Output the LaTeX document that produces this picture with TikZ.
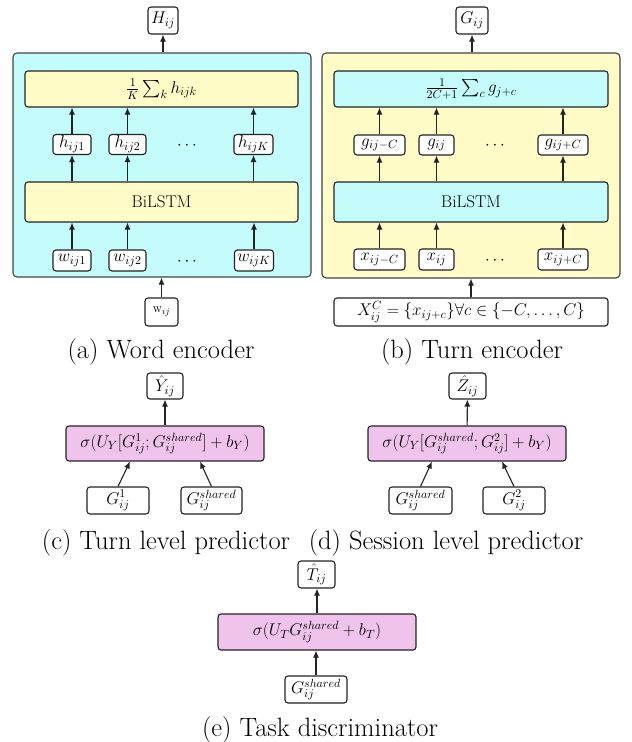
\RequirePackage{fix-cm}
\documentclass[tikz,border=0pt]{standalone}
\usepackage{exscale}
\usepackage[no-math]{fontspec}
\usetikzlibrary{arrows.meta,calc}
\definecolor{cyanbg}{RGB}{196,252,252}
\definecolor{yellowbg}{RGB}{255,252,200}
\definecolor{pinkbg}{RGB}{240,195,236}
\definecolor{linec}{RGB}{35,35,35}
\tikzset{
  box/.style={draw=linec, line width=1.1pt, rounded corners=3pt, fill=white, inner sep=0pt,
    font=\fontsize{17}{20}\selectfont},
  bigbox/.style={draw=linec!85, line width=1.1pt, rounded corners=4pt, inner sep=0pt},
  arr/.style={draw=linec, line width=1.1pt, -{Latex[length=7pt,width=6pt]}},
  capt/.style={font=\fontsize{26.5}{30}\selectfont, inner sep=0pt},
  dotsn/.style={inner sep=0pt, font=\fontsize{17}{20}\selectfont},
}
\begin{document}
\begin{tikzpicture}[x=1pt,y=-1pt]
\useasboundingbox (0,0) rectangle (632,742);

% ---------- (a) Word encoder ----------
\node[bigbox, fill=cyanbg, minimum width=298pt, minimum height=224pt] (WA) at (162,165) {};
\node[box, minimum width=30pt, minimum height=27pt] (H) at (163,20.5) {$H_{ij}$};
\node[box, fill=yellowbg, minimum width=273pt, minimum height=36pt] (avgA) at (161.5,89) {$\frac{1}{K}\sum_k h_{ijk}$};
\node[box, minimum width=38pt, minimum height=20pt] (h1) at (72,144.5) {$h_{ij1}$};
\node[box, minimum width=37pt, minimum height=20pt] (h2) at (127.5,144.5) {$h_{ij2}$};
\node[box, minimum width=39pt, minimum height=20pt] (hK) at (253.5,144.5) {$h_{ijK}$};
\node[dotsn] (dA1) at (187,146) {$\cdots$};
\node[box, fill=yellowbg, minimum width=273pt, minimum height=40pt] (BiA) at (161.5,202) {BiLSTM};
\node[box, minimum width=38pt, minimum height=21pt] (w1) at (72,260.5) {$w_{ij1}$};
\node[box, minimum width=37pt, minimum height=21pt] (w2) at (127.5,260.5) {$w_{ij2}$};
\node[box, minimum width=39pt, minimum height=21pt] (wK) at (254,260.5) {$w_{ijK}$};
\node[dotsn] (dA2) at (187,262) {$\cdots$};
\node[box, minimum width=33pt, minimum height=28pt, font=\fontsize{13}{15}\selectfont] (wij) at (161.5,312) {$\mathrm{w}_{ij}$};

\draw[arr] (WA.north -| H) -- (H);
\foreach \n in {h1,h2,hK} {
  \draw[arr] (\n) -- (\n |- avgA.south);
  \draw[arr] (BiA.north -| \n) -- (\n);
}
\foreach \n in {w1,w2,wK} {
  \draw[arr] (\n) -- (\n |- BiA.south);
}
\draw[arr] (wij) -- (wij |- WA.south);
\node[capt] (capA) at (161,352) {(a) Word encoder};

% ---------- (b) Turn encoder ----------
\node[bigbox, fill=yellowbg, minimum width=298pt, minimum height=225pt] (WB) at (471,165.5) {};
\node[box, minimum width=32pt, minimum height=27pt] (G) at (472,20.5) {$G_{ij}$};
\node[box, fill=cyanbg, minimum width=274pt, minimum height=36pt] (avgB) at (471,89) {$\frac{1}{2C+1}\sum_c g_{j+c}$};
\node[box, minimum width=51pt, minimum height=20pt] (gm) at (379.5,145) {$g_{ij-C}$};
\node[box, minimum width=35pt, minimum height=20pt] (g0) at (436.5,145) {$g_{ij}$};
\node[box, minimum width=50pt, minimum height=20pt] (gp) at (563,145) {$g_{ij+C}$};
\node[dotsn] (dB1) at (495,146) {$\cdots$};
\node[box, fill=cyanbg, minimum width=274pt, minimum height=40pt] (BiB) at (471,202) {BiLSTM};
\node[box, minimum width=51pt, minimum height=21pt] (xm) at (379.5,259.5) {$x_{ij-C}$};
\node[box, minimum width=35pt, minimum height=21pt] (x0) at (436.5,259.5) {$x_{ij}$};
\node[box, minimum width=50pt, minimum height=21pt] (xp) at (563,259.5) {$x_{ij+C}$};
\node[dotsn] (dB2) at (495,261) {$\cdots$};
\node[box, minimum width=274pt, minimum height=28pt] (XC) at (471,312) {$X_{ij}^{C}=\{x_{ij+c}\}\forall c\in\{-C,\dots,C\}$};

\draw[arr] (WB.north -| G) -- (G);
\foreach \n in {gm,g0,gp} {
  \draw[arr] (\n) -- (\n |- avgB.south);
  \draw[arr] (BiB.north -| \n) -- (\n);
}
\foreach \n in {xm,x0,xp} {
  \draw[arr] (\n) -- (\n |- BiB.south);
}
\draw[arr] (XC) -- (XC |- WB.south);
\node[capt] (capB) at (472,352) {(b) Turn encoder};

% ---------- (c) Turn level predictor ----------
\node[box, minimum width=36pt, minimum height=26pt] (Yh) at (165,386) {$\hat{Y}_{ij}$};
\node[box, fill=pinkbg, minimum width=198pt, minimum height=35pt] (pC) at (165,443.5) {$\sigma(U_Y[G^1_{ij};G^{shared}_{ij}]+b_Y)$};
\node[box, minimum width=62pt, minimum height=27pt] (G1c) at (118,500.5) {$G^1_{ij}$};
\node[box, minimum width=61pt, minimum height=27pt] (Gsc) at (211.5,500.5) {$G^{shared}_{ij}$};
\draw[arr] (pC) -- (Yh);
\draw[arr] (G1c.north) -- ($(pC.south)+(-35,0)$);
\draw[arr] (Gsc.north) -- ($(pC.south)+(35,0)$);
\node[capt] (capC) at (166,543) {(c) Turn level predictor};

% ---------- (d) Session level predictor ----------
\node[box, minimum width=37pt, minimum height=26pt] (Zh) at (467.5,386) {$\hat{Z}_{ij}$};
\node[box, fill=pinkbg, minimum width=198pt, minimum height=35pt] (pD) at (467,443.5) {$\sigma(U_Y[G^{shared}_{ij};G^2_{ij}]+b_Y)$};
\node[box, minimum width=63pt, minimum height=27pt] (Gsd) at (420.5,500.5) {$G^{shared}_{ij}$};
\node[box, minimum width=62pt, minimum height=27pt] (G2d) at (514,500.5) {$G^2_{ij}$};
\draw[arr] (pD) -- (Zh);
\draw[arr] (Gsd.north) -- ($(pD.south)+(-35,0)$);
\draw[arr] (G2d.north) -- ($(pD.south)+(35,0)$);
\node[capt] (capD) at (446,543) {(d) Session level predictor};

% ---------- (e) Task discriminator ----------
\node[box, minimum width=37pt, minimum height=27pt] (Th) at (316.5,574.5) {$\hat{T}_{ij}$};
\node[box, fill=pinkbg, minimum width=198pt, minimum height=36pt] (pE) at (317,632) {$\sigma(U_T G^{shared}_{ij}+b_T)$};
\node[box, minimum width=62pt, minimum height=27pt] (Gse) at (316,689.5) {$G^{shared}_{ij}$};
\draw[arr] (pE) -- (pE |- Th.south);
\draw[arr] (Gse) -- (Gse |- pE.south);
\node[capt] (capE) at (320,730) {(e) Task discriminator};
\end{tikzpicture}
\end{document}
